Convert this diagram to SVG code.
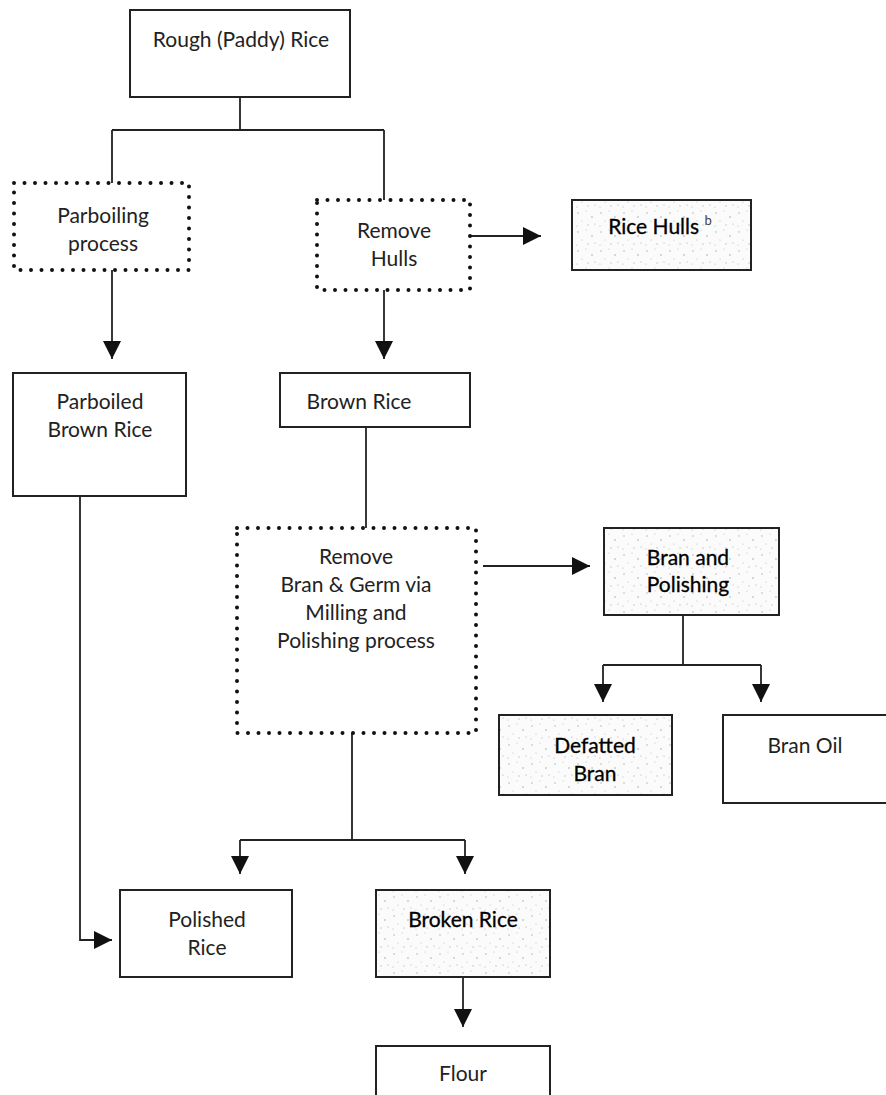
<svg xmlns="http://www.w3.org/2000/svg" width="886" height="1095" viewBox="0 0 886 1095">
<style>
.box{fill:#fff;stroke:#222;stroke-width:2}
.gbox{fill:url(#stip);stroke:#222;stroke-width:2}
.dot{fill:#fff;stroke:#111;stroke-width:4;stroke-dasharray:0 10.5;stroke-linecap:round}
.t{font-family:"Lato","Open Sans",sans-serif;font-size:21px;fill:#222;text-anchor:middle}
.tb{font-family:"Lato","Open Sans",sans-serif;font-size:21px;fill:#000;text-anchor:middle;stroke:#000;stroke-width:0.3}
.c{fill:none;stroke:#222;stroke-width:1.8}
.ca{fill:none;stroke:#222;stroke-width:1.8;marker-end:url(#ah)}
</style>
<defs>
<marker id="ah" markerUnits="userSpaceOnUse" markerWidth="18" markerHeight="20" refX="18" refY="9" orient="auto" viewBox="0 0 18 18">
<path d="M0,0 L18,9 L0,18 Z" fill="#111"/>
</marker>
<pattern id="stip" patternUnits="userSpaceOnUse" width="23" height="19">
<rect width="23" height="19" fill="#fbfbfb"/>
<circle cx="3" cy="4" r="0.7" fill="#aaa"/>
<circle cx="11" cy="2" r="0.6" fill="#bbb"/>
<circle cx="17" cy="8" r="0.7" fill="#999"/>
<circle cx="7" cy="12" r="0.6" fill="#bbb"/>
<circle cx="20" cy="15" r="0.6" fill="#aaa"/>
<circle cx="13" cy="16" r="0.7" fill="#bbb"/>
<circle cx="2" cy="17" r="0.5" fill="#aaa"/>
</pattern>
</defs>

<g id="connectors">
<path class="c" d="M240,97 V130 M112,130 H384 M112,130 V183 M384,130 V200"/>
<path class="ca" d="M112,270 V359"/>
<path class="ca" d="M384,290 V359"/>
<path class="ca" d="M470,236 H541"/>
<path class="c" d="M366,427 V528"/>
<path class="ca" d="M483,566 H590"/>
<path class="c" d="M683,615 V665 M603,665 H761"/>
<path class="ca" d="M603,665 V702"/>
<path class="ca" d="M761,665 V702"/>
<path class="c" d="M352,733 V840 M240,840 H465"/>
<path class="ca" d="M240,840 V874"/>
<path class="ca" d="M465,840 V874"/>
<path class="ca" d="M80,496 V940 H112"/>
<path class="ca" d="M463,977 V1027"/>
</g>

<g id="rough">
<rect class="box" x="130" y="10" width="220" height="87"/>
<text class="t" x="241" y="47">Rough (Paddy) Rice</text>
</g>
<g id="parboiling">
<rect class="dot" x="14" y="183" width="175" height="87"/>
<text class="t" x="103" y="223">Parboiling</text>
<text class="t" x="103" y="251">process</text>
</g>
<g id="removehulls">
<rect class="dot" x="317" y="200" width="153" height="90"/>
<text class="t" x="394" y="238">Remove</text>
<text class="t" x="394" y="266">Hulls</text>
</g>
<g id="ricehulls">
<rect class="gbox" x="572" y="200" width="179" height="70"/>
<text class="tb" x="660" y="234">Rice Hulls <tspan font-size="13" dy="-9" fill="#444" stroke="none">b</tspan></text>
</g>
<g id="parboiled">
<rect class="box" x="13" y="373" width="173" height="123"/>
<text class="t" x="100" y="409">Parboiled</text>
<text class="t" x="100" y="437">Brown Rice</text>
</g>
<g id="brownrice">
<rect class="box" x="280" y="373" width="190" height="54"/>
<text class="t" x="359" y="409">Brown Rice</text>
</g>
<g id="removebran">
<rect class="dot" x="237" y="528" width="239" height="205"/>
<text class="t" x="356" y="564">Remove</text>
<text class="t" x="356" y="592">Bran &amp; Germ via</text>
<text class="t" x="356" y="620">Milling and</text>
<text class="t" x="356" y="648">Polishing process</text>
</g>
<g id="branpolishing">
<rect class="gbox" x="604" y="528" width="175" height="87"/>
<text class="tb" x="688" y="565">Bran and</text>
<text class="tb" x="688" y="592">Polishing</text>
</g>
<g id="defatted">
<rect class="gbox" x="499" y="715" width="173" height="80"/>
<text class="tb" x="595" y="753">Defatted</text>
<text class="tb" x="595" y="781">Bran</text>
</g>
<g id="branoil">
<rect class="box" x="723" y="715" width="175" height="88"/>
<text class="t" x="805" y="753">Bran Oil</text>
</g>
<g id="polished">
<rect class="box" x="120" y="890" width="172" height="87"/>
<text class="t" x="207" y="927">Polished</text>
<text class="t" x="207" y="955">Rice</text>
</g>
<g id="broken">
<rect class="gbox" x="376" y="890" width="174" height="87"/>
<text class="tb" x="463" y="927">Broken Rice</text>
</g>
<g id="flour">
<rect class="box" x="376" y="1046" width="174" height="60"/>
<text class="t" x="463" y="1081">Flour</text>
</g>
</svg>
